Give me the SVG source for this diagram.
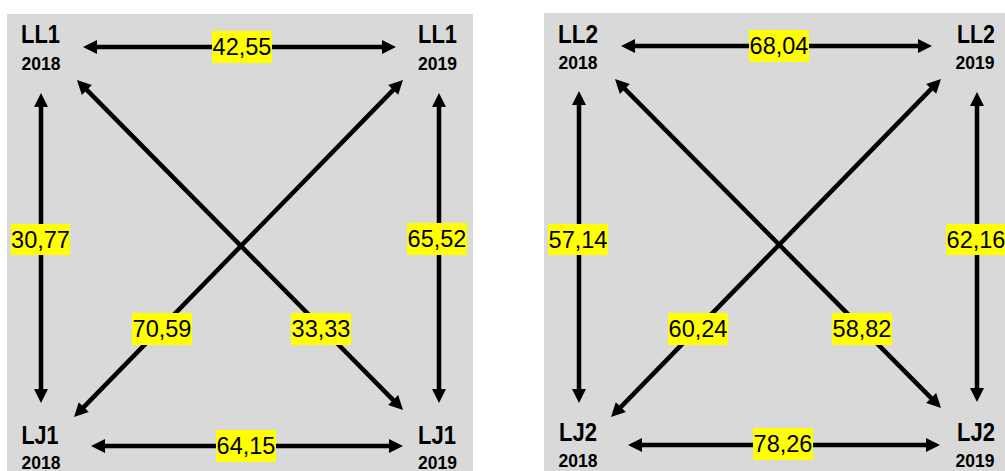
<svg xmlns="http://www.w3.org/2000/svg" width="1005" height="471" viewBox="0 0 1005 471">
<style>
.panel{fill:#d9d9d9}
.ln{stroke:#000;stroke-width:4.5;fill:none;marker-start:url(#ah);marker-end:url(#ah)}
.box{fill:#ffff00}
.val{font-family:"Liberation Sans",Arial,sans-serif;font-size:23.5px;fill:#000;text-anchor:middle}
.nm{font-family:"Liberation Sans",Arial,sans-serif;font-weight:bold;font-size:25.5px;fill:#000;text-anchor:middle}
.yr{font-family:"Liberation Sans",Arial,sans-serif;font-weight:bold;font-size:17.5px;fill:#000;text-anchor:middle}
</style>
<defs>
<marker id="ah" markerUnits="userSpaceOnUse" markerWidth="15" markerHeight="14" refX="5" refY="7" orient="auto-start-reverse" overflow="visible">
<path d="M0,0 L14,7 L0,14 z" fill="#000"/>
</marker>
</defs>
<rect width="1005" height="471" fill="#fff"/>
<rect class="panel" x="7" y="14" width="466" height="457"/>
<rect class="panel" x="544" y="13" width="461" height="458"/>

<g id="connectors">
<line class="ln" x1="92" y1="47" x2="387" y2="47"/>
<line class="ln" x1="100" y1="446" x2="394" y2="446"/>
<line class="ln" x1="41" y1="102" x2="41" y2="394"/>
<line class="ln" x1="439" y1="102" x2="439" y2="394"/>
<line class="ln" x1="83.3" y1="86.4" x2="396.7" y2="403.6"/>
<line class="ln" x1="396.7" y1="86.4" x2="80.3" y2="410.6"/>
<line class="ln" x1="630" y1="46" x2="923" y2="46"/>
<line class="ln" x1="637" y1="445" x2="931" y2="445"/>
<line class="ln" x1="579" y1="100" x2="579" y2="394"/>
<line class="ln" x1="977" y1="101" x2="977" y2="393"/>
<line class="ln" x1="621.3" y1="85.4" x2="934.7" y2="401.6"/>
<line class="ln" x1="934.7" y1="85.4" x2="617.3" y2="410.6"/>
</g>

<g id="labels">
<g id="v4255"><rect class="box" x="212" y="31" width="60" height="32"/><text class="val" x="242" y="55">42,55</text></g>
<g id="v6415"><rect class="box" x="216" y="430" width="60" height="32"/><text class="val" x="246" y="454">64,15</text></g>
<g id="v3077"><rect class="box" x="11" y="224" width="59" height="31"/><text class="val" x="40.5" y="248">30,77</text></g>
<g id="v6552"><rect class="box" x="407" y="223" width="60" height="32"/><text class="val" x="437" y="247">65,52</text></g>
<g id="v7059"><rect class="box" x="132" y="313" width="60" height="32"/><text class="val" x="162" y="337">70,59</text></g>
<g id="v3333"><rect class="box" x="291" y="313" width="60" height="32"/><text class="val" x="321" y="337">33,33</text></g>
<g id="v6804"><rect class="box" x="749" y="30" width="60" height="32"/><text class="val" x="779" y="54">68,04</text></g>
<g id="v7826"><rect class="box" x="753" y="428" width="60" height="32"/><text class="val" x="783" y="452">78,26</text></g>
<g id="v5714"><rect class="box" x="548" y="224" width="60" height="31"/><text class="val" x="578" y="248">57,14</text></g>
<g id="v6216"><rect class="box" x="946" y="224" width="60" height="31"/><text class="val" x="976" y="248">62,16</text></g>
<g id="v6024"><rect class="box" x="668" y="313" width="60" height="32"/><text class="val" x="698" y="337">60,24</text></g>
<g id="v5882"><rect class="box" x="832" y="313" width="60" height="32"/><text class="val" x="862" y="337">58,82</text></g>
</g>

<g id="LL1_2018"><text class="nm" x="40.5" y="43" textLength="39" lengthAdjust="spacingAndGlyphs">LL1</text><text class="yr" x="41" y="70">2018</text></g>
<g id="LL1_2019"><text class="nm" x="437.5" y="43" textLength="39" lengthAdjust="spacingAndGlyphs">LL1</text><text class="yr" x="437.5" y="70">2019</text></g>
<g id="LJ1_2018"><text class="nm" x="40" y="444" textLength="37" lengthAdjust="spacingAndGlyphs">LJ1</text><text class="yr" x="41" y="469">2018</text></g>
<g id="LJ1_2019"><text class="nm" x="437" y="444" textLength="38" lengthAdjust="spacingAndGlyphs">LJ1</text><text class="yr" x="437.5" y="469">2019</text></g>
<g id="LL2_2018"><text class="nm" x="578" y="43" textLength="40" lengthAdjust="spacingAndGlyphs">LL2</text><text class="yr" x="578" y="69">2018</text></g>
<g id="LL2_2019"><text class="nm" x="976" y="43" textLength="38" lengthAdjust="spacingAndGlyphs">LL2</text><text class="yr" x="975" y="69">2019</text></g>
<g id="LJ2_2018"><text class="nm" x="578" y="441" textLength="38" lengthAdjust="spacingAndGlyphs">LJ2</text><text class="yr" x="578" y="467">2018</text></g>
<g id="LJ2_2019"><text class="nm" x="976" y="441" textLength="38" lengthAdjust="spacingAndGlyphs">LJ2</text><text class="yr" x="975" y="467">2019</text></g>
</svg>
